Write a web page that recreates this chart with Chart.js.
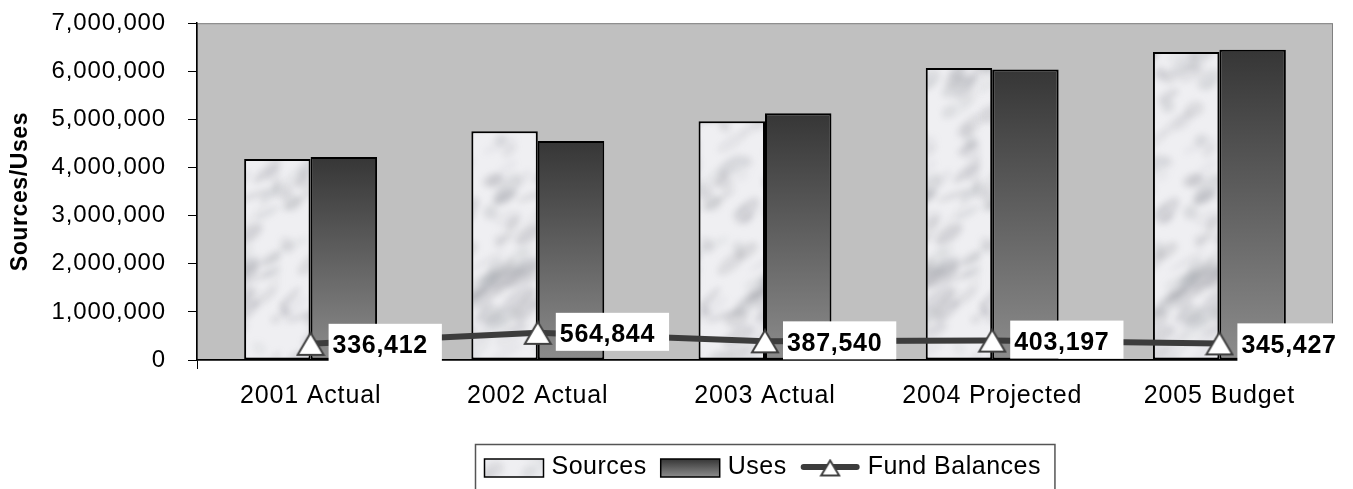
<!DOCTYPE html>
<html>
<head>
<meta charset="utf-8">
<script src="https://cdn.jsdelivr.net/npm/chart.js@4"></script>
<style>
  html, body { margin: 0; padding: 0; background: #fff; }
  #wrap { width: 1353px; height: 489px; }
</style>
</head>
<body>
<div id="wrap"><canvas id="c" width="1353" height="489"></canvas></div>
<script>
const categories = ['2001 Actual', '2002 Actual', '2003 Actual', '2004 Projected', '2005 Budget'];
const sources = [4180000, 4755000, 4960000, 6070000, 6400000];
const uses = [4220000, 4550000, 5130000, 6040000, 6450000];
const fundBalances = [336412, 564844, 387540, 403197, 345427];
const yTicksMax = 7000000;
const yTicksStep = 1000000;

const FONT = '"Liberation Sans", Arial, sans-serif';
const PLOT_TOP = 20;
const fmt = v => Number(v).toLocaleString('en-US');

// soft grey "marble" texture for the Sources bars
function hash(n) {
    const s = Math.sin(n * 12.9898 + 78.233) * 43758.5453;
    return s - Math.floor(s);
}
function marbleCanvas() {
    const w = 140, h = 360;
    const blobs = document.createElement('canvas');
    blobs.width = w; blobs.height = h;
    const b = blobs.getContext('2d');
    for (let i = 0; i < 170; i++) {
        const x = hash(i) * w, y = hash(i + 500) * h;
        const rx = 5 + hash(i + 1000) * 16, ry = 2.5 + hash(i + 1500) * 6;
        const a = 0.05 + hash(i + 2000) * 0.16;
        b.fillStyle = 'rgba(120,122,130,' + a.toFixed(3) + ')';
        b.beginPath();
        b.ellipse(x, y, rx, ry, -0.9 + hash(i + 2500) * 0.6, 0, Math.PI * 2);
        b.fill();
    }
    const c = document.createElement('canvas');
    c.width = w; c.height = h;
    const g = c.getContext('2d');
    g.fillStyle = '#efeff2';
    g.fillRect(0, 0, w, h);
    g.filter = 'blur(3px)';
    g.drawImage(blobs, 0, 0);
    g.drawImage(blobs, -w, 0);
    g.drawImage(blobs, w, 0);
    return c;
}

function triangleCanvas(w, h, lw) {
    const c = document.createElement('canvas');
    c.width = w + 4; c.height = h + 4;
    const g = c.getContext('2d');
    g.beginPath();
    g.moveTo(c.width / 2, 2);
    g.lineTo(c.width - 2, h + 2);
    g.lineTo(2, h + 2);
    g.closePath();
    g.fillStyle = '#ffffff';
    g.fill();
    g.lineWidth = lw;
    g.strokeStyle = '#404040';
    g.stroke();
    return c;
}

const canvas = document.getElementById('c');
const marble = canvas.getContext('2d').createPattern(marbleCanvas(), 'repeat');
const tri = triangleCanvas(26, 22, 2);
const triSmall = triangleCanvas(18, 15, 2);

function usesGradient(ctx, top, bottom) {
    const g = ctx.createLinearGradient(0, top, 0, bottom);
    g.addColorStop(0, '#363636');
    g.addColorStop(1, '#8c8c8c');
    return g;
}

const chartStyle = {
    id: 'chartStyle',
    beforeUpdate(chart) { chart.ctx.letterSpacing = '0.85px'; },
    beforeDraw(chart) {
        const { ctx, chartArea: a } = chart;
        ctx.letterSpacing = '0.85px';
        ctx.save();
        ctx.fillStyle = '#c0c0c0';
        ctx.fillRect(a.left, a.top, a.right - a.left, a.bottom - a.top);
        ctx.strokeStyle = '#808080';
        ctx.lineWidth = 1;
        ctx.strokeRect(a.left + 0.5, a.top + 0.5, a.right - a.left - 1, a.bottom - a.top);
        ctx.restore();
    },
    afterDraw(chart) {
        const { ctx, chartArea: a } = chart;

        // value boxes next to each fund balance point
        const meta = chart.getDatasetMeta(2);
        ctx.save();
        ctx.font = 'bold 25px ' + FONT;
        ctx.letterSpacing = '0.7px';
        ctx.textBaseline = 'alphabetic';
        ctx.textAlign = 'left';
        meta.data.forEach((pt, i) => {
            const text = fmt(fundBalances[i]);
            const tw = ctx.measureText(text).width;
            const bx = pt.x + 18, by = pt.y - 20;
            ctx.fillStyle = '#ffffff';
            ctx.fillRect(bx, by, tw + 18, 38);
            ctx.fillStyle = '#000000';
            ctx.fillText(text, bx + 4, pt.y + 9.5);
        });
        ctx.restore();

        // y axis title
        ctx.save();
        ctx.translate(21, (a.top + a.bottom) / 2);
        ctx.rotate(-Math.PI / 2);
        ctx.font = 'bold 23px ' + FONT;
        ctx.letterSpacing = '0.6px';
        ctx.textAlign = 'center';
        ctx.textBaseline = 'middle';
        ctx.fillStyle = '#000';
        ctx.fillText('Sources/Uses', 0, 0);
        ctx.restore();

        // legend
        const ds = chart.data.datasets;
        ctx.save();
        ctx.font = '25px ' + FONT;
        ctx.letterSpacing = '0.5px';
        const sw = 59, gapIn = 8, gapOut = 14, pad = 9;
        const widths = ds.map(d => ctx.measureText(d.label).width);
        const total = pad + widths.reduce((s, w) => s + sw + gapIn + w, 0) + gapOut * 2 + gapOut;
        const boxL = Math.round((a.left + a.right) / 2 - total / 2) + 0.5;
        const boxT = 444.5;
        ctx.strokeStyle = '#555';
        ctx.lineWidth = 1.5;
        ctx.strokeRect(boxL, boxT, total, 60);
        const sy = 459, sh = 18, midY = sy + sh / 2;
        let x = boxL + pad;
        ds.forEach((d, i) => {
            if (d.type === 'line') {
                ctx.strokeStyle = d.borderColor;
                ctx.lineWidth = 6;
                ctx.lineCap = 'round';
                ctx.beginPath();
                ctx.moveTo(x + 3, midY - 1);
                ctx.lineTo(x + sw - 3, midY - 1);
                ctx.stroke();
                ctx.drawImage(triSmall, x + sw / 2 - triSmall.width / 2, midY - triSmall.height / 2);
            } else {
                ctx.fillStyle = i === 0 ? marble : usesGradient(ctx, sy, sy + sh);
                ctx.fillRect(x, sy, sw, sh);
                ctx.strokeStyle = '#000';
                ctx.lineWidth = 1.5;
                ctx.strokeRect(x, sy, sw, sh);
            }
            x += sw + gapIn;
            ctx.fillStyle = '#000';
            ctx.textBaseline = 'alphabetic';
            ctx.fillText(d.label, x, 474);
            x += widths[i] + gapOut;
        });
        ctx.restore();
    }
};

const chart = new Chart(canvas, {
    data: {
        labels: categories,
        datasets: [
            {
                type: 'bar',
                label: 'Sources',
                data: sources,
                backgroundColor: marble,
                borderColor: '#000000',
                borderWidth: 2,
                borderSkipped: false,
                order: 1
            },
            {
                type: 'bar',
                label: 'Uses',
                data: uses,
                backgroundColor: (c) => {
                    const chart = c.chart;
                    if (!chart.chartArea || c.raw === undefined) return '#555';
                    const top = chart.scales.y.getPixelForValue(c.raw);
                    return usesGradient(chart.ctx, top, chart.chartArea.bottom);
                },
                borderColor: '#000000',
                borderWidth: 2,
                borderSkipped: false,
                order: 1
            },
            {
                type: 'line',
                label: 'Fund Balances',
                data: fundBalances,
                borderColor: '#3c3c3c',
                borderWidth: 6,
                pointStyle: tri,
                pointRadius: 12,
                tension: 0,
                clip: false,
                order: 0
            }
        ]
    },
    options: {
        responsive: false,
        animation: false,
        events: [],
        layout: { autoPadding: false, padding: { top: PLOT_TOP, right: 20, left: 0, bottom: 0 } },
        datasets: { bar: { categoryPercentage: 0.585, barPercentage: 1 } },
        plugins: { legend: { display: false }, tooltip: { enabled: false } },
        scales: {
            x: {
                offset: true,
                afterFit: s => { s.height = 129; },
                grid: {
                    offset: true,
                    drawOnChartArea: false,
                    tickLength: 9,
                    color: c => c.index === 0 ? '#000' : 'rgba(0,0,0,0)'
                },
                border: { color: '#000', width: 1.5 },
                ticks: { color: '#000', font: { family: FONT, size: 25 }, padding: 12, maxRotation: 0 }
            },
            y: {
                min: 0,
                max: yTicksMax,
                afterFit: s => { s.width = 197; },
                grid: { drawOnChartArea: false, tickLength: 9, color: '#000' },
                border: { color: '#000', width: 1.5 },
                ticks: {
                    stepSize: yTicksStep,
                    color: '#000',
                    // tiny line height keeps the top label from pushing the plot down
                    font: { family: FONT, size: 24, lineHeight: 0.1 },
                    padding: 22,
                    callback: v => fmt(v)
                }
            }
        }
    },
    plugins: [chartStyle]
});

for (let k = 0; k < 4 && Math.abs(chart.chartArea.top - PLOT_TOP) > 0.5; k++) {
    chart.options.layout.padding.top -= chart.chartArea.top - PLOT_TOP;
    chart.update();
}
</script>
</body>
</html>
